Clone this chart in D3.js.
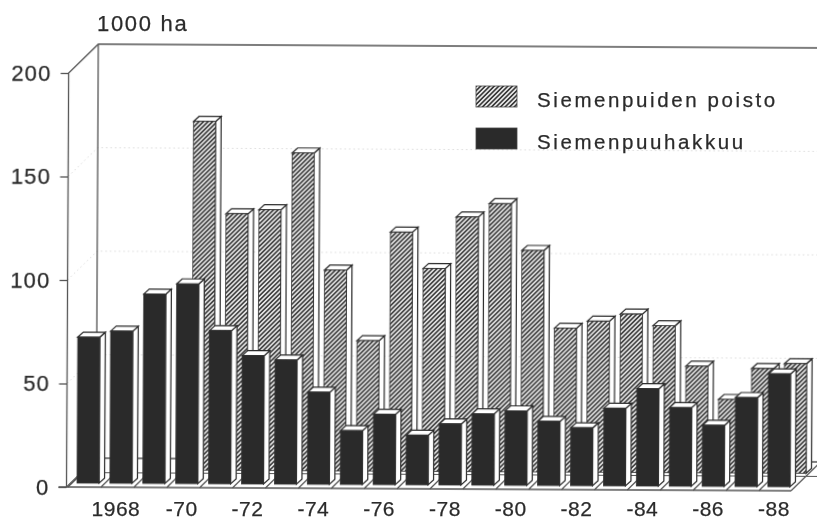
<!DOCTYPE html>
<html><head><meta charset="utf-8">
<script src="https://cdn.jsdelivr.net/npm/d3@7"></script>
<style>html,body{margin:0;background:#fff}svg{display:block}text{font-family:"Liberation Sans",Arial,sans-serif;fill:#2c2c2c;stroke:#2c2c2c;stroke-width:0.25px}</style>
</head><body><div id="c"></div>
<script>
const categories = d3.range(1967, 1989);
const xLabels = {1968:"1968",1970:"-70",1972:"-72",1974:"-74",1976:"-76",1978:"-78",1980:"-80",1982:"-82",1984:"-84",1986:"-86",1988:"-88"};
const yTicks = [0,50,100,150,200];
const siemenpuuhakkuu = [70.5,73.5,91.5,96.5,74,62,60,44.5,26,34,24,29.5,34.5,36,31,28,37.5,47,38,29.5,43,54.5];
const siemenpuidenPoisto = [null,null,null,168.5,124,126,153.5,97,63,115.5,98,123,129.5,107,69.5,73,76.5,71,51.5,35.5,50.5,53];
const legendLabels = ["Siemenpuiden poisto","Siemenpuuhakkuu"];

const W=817,H=521, DARK="#2a2a2a", LINE="#555";
const svg=d3.select("#c").append("svg").attr("width",W).attr("height",H);
const defs=svg.append("defs");
const pat=defs.append("pattern").attr("id","hatch").attr("patternUnits","userSpaceOnUse")
  .attr("width",3.2).attr("height",3.2).attr("patternTransform","rotate(45)");
pat.append("rect").attr("width",3.2).attr("height",3.2).attr("fill","#e8e8e8");
pat.append("rect").attr("width",1.6).attr("height",3.2).attr("fill","#3a3a3a");
defs.append("filter").attr("id","soft").append("feGaussianBlur").attr("stdDeviation",0.45);

const AX=66.5;
const root=svg.append("g").attr("filter","url(#soft)").attr("transform",`rotate(0.3,${AX},487)`);
const y=d3.scaleLinear().domain([0,200]).range([487,73]);
const STEP=32.9, PAD=0.33;
const x=d3.scaleBand().domain(categories).range([77,77+STEP*(22-PAD)]).paddingInner(PAD).paddingOuter(0).align(0);
const depthX=29.5, depthY=-29, sideX=5.5, sideY=-5;
const rightFront=791, backW=W+5;

// walls
const wall=root.append("g").attr("fill","none");
yTicks.slice(1,4).forEach(t=>{
  wall.append("path").attr("d",`M${AX},${y(t)}L${AX+depthX},${y(t)+depthY}L${backW},${y(t)+depthY}`)
    .attr("stroke","#ccc").attr("stroke-width",0.7).attr("stroke-dasharray","1.5 3");
});
wall.append("path").attr("d",`M${AX},${y(0)}L${AX},${y(200)}L${AX+depthX},${y(200)+depthY}L${backW},${y(200)+depthY}`)
  .attr("stroke",LINE).attr("stroke-width",1.3);
wall.append("path").attr("d",`M${AX+depthX},${y(200)+depthY}L${AX+depthX},${y(0)+depthY}L${backW},${y(0)+depthY}`)
  .attr("stroke",LINE).attr("stroke-width",1.3);

// floor
const floor=root.append("g").attr("fill","none").attr("stroke",LINE).attr("stroke-width",1.2);
floor.append("path").attr("d",`M${AX},${y(0)}L${AX+depthX},${y(0)+depthY}`);
floor.append("path").attr("d",`M${AX+depthX/2},${y(0)+depthY/2}L${backW},${y(0)+depthY/2}`);
floor.append("path").attr("d",`M${rightFront},${y(0)}L${rightFront+depthX},${y(0)+depthY}`);
categories.forEach(c=>{
  const fx=x(c)-9;
  floor.append("path").attr("d",`M${fx},${y(0)}L${fx+depthX/2},${y(0)+depthY/2}`);
});

// y axis
const yAxis=d3.axisLeft(y).tickValues(yTicks).tickSize(8).tickPadding(9);
const ya=root.append("g").attr("transform",`translate(${AX},0)`).call(yAxis);
ya.select(".domain").remove();
ya.selectAll("line").attr("stroke",LINE).attr("stroke-width",1.3);
ya.selectAll("text").attr("font-size",22).attr("letter-spacing",1.2).attr("fill","#2c2c2c");
root.append("line").attr("x1",AX-8).attr("x2",rightFront).attr("y1",y(0)).attr("y2",y(0)).attr("stroke",LINE).attr("stroke-width",1.5);

function bars(data,cls,ox,oy,fill){
  const g=root.append("g").attr("class",cls);
  const rows=categories.map((c,i)=>({c,v:data[i]})).filter(d=>d.v!=null);
  const bw=x.bandwidth();
  const item=g.selectAll("g").data(rows).join("g");
  const top=d=>y(d.v)+oy, bot=oy+y(0), lft=d=>x(d.c)+ox;
  item.append("path").attr("fill","#fff").attr("stroke","#2a2a2a").attr("stroke-width",1.2)
    .attr("d",d=>`M${lft(d)+bw},${top(d)}L${lft(d)+bw+sideX},${top(d)+sideY}L${lft(d)+bw+sideX},${bot+sideY}L${lft(d)+bw},${bot}Z`);
  item.append("path").attr("fill","#fff").attr("stroke","#2a2a2a").attr("stroke-width",1.2)
    .attr("d",d=>`M${lft(d)},${top(d)}L${lft(d)+sideX},${top(d)+sideY}L${lft(d)+bw+sideX},${top(d)+sideY}L${lft(d)+bw},${top(d)}Z`);
  item.append("rect").attr("x",lft).attr("y",top).attr("width",bw)
    .attr("height",d=>y(0)-y(d.v)).attr("fill",fill).attr("stroke","#333").attr("stroke-width",0.8);
}
bars(siemenpuidenPoisto,"back",16,-17.5,"url(#hatch)");
bars(siemenpuuhakkuu,"front",0,-4,DARK);

// x labels
const lab=svg.append("g").attr("filter","url(#soft)");
categories.filter(c=>xLabels[c]).forEach(c=>{
  lab.append("text").attr("x",x(c)+x.bandwidth()/2-5).attr("y",516.3).attr("text-anchor","middle")
    .attr("font-size",21).attr("letter-spacing",0.5).text(xLabels[c]);
});

// title
svg.append("text").attr("x",97).attr("y",31).attr("font-size",22).attr("letter-spacing",1.7).text("1000 ha").attr("filter","url(#soft)");

// legend
const lg=svg.append("g").attr("filter","url(#soft)");
legendLabels.forEach((t,i)=>{
  const yy=86+i*42;
  lg.append("rect").attr("x",476).attr("y",yy).attr("width",41).attr("height",21)
    .attr("fill",i?DARK:"url(#hatch)").attr("stroke","#444").attr("stroke-width",0.8);
  lg.append("text").attr("x",537).attr("y",yy+21).attr("font-size",20.5).attr("letter-spacing",2.6).text(t);
});
</script></body></html>
